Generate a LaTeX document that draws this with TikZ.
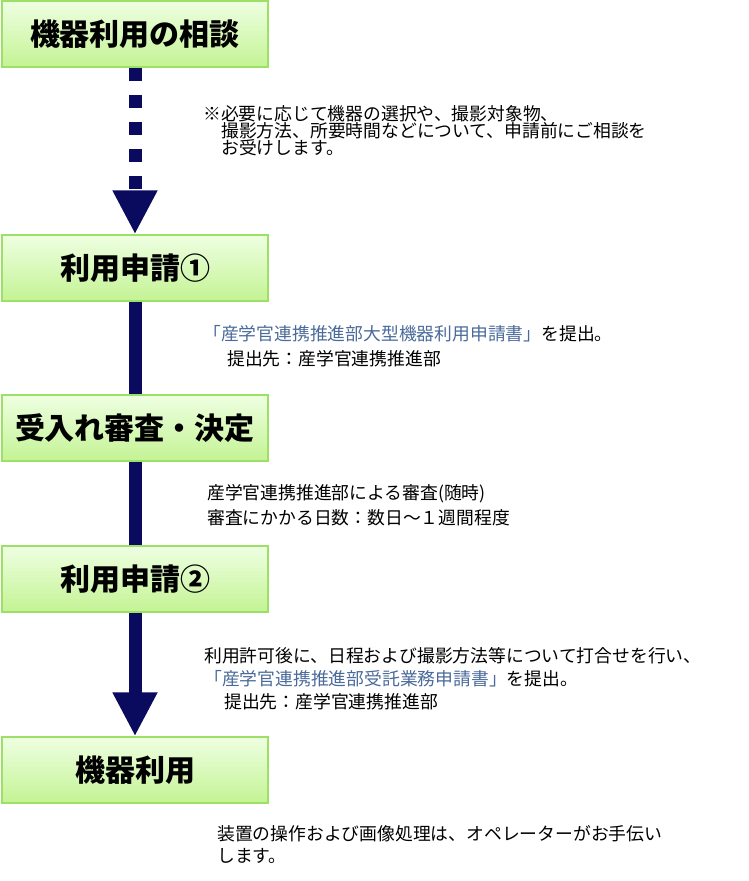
\documentclass[tikz,border=0pt]{standalone}
\usepackage{fontspec}
\setmainfont{Noto Sans CJK JP}
\usetikzlibrary{arrows.meta}
\definecolor{navy}{HTML}{0A0A5E}
\definecolor{boxtop}{HTML}{EEFFE2}
\definecolor{boxbot}{HTML}{C4F394}
\definecolor{boxline}{HTML}{9CE066}
\definecolor{formblue}{HTML}{4A6A9A}
\tikzset{
  stepbox/.style={draw=boxline,line width=1.5pt,top color=boxtop,bottom color=boxbot,
    minimum width=266pt,minimum height=66pt,inner sep=0pt,font=\bfseries\fontsize{30}{34}\selectfont},
  note/.style={anchor=north west,inner sep=0pt,align=left,font=\fontsize{17.8}{17}\selectfont},
  flow/.style={navy,line width=13pt},
  bighead/.style={-{Triangle[length=44pt,width=42pt]}}
}
\begin{document}
\begin{tikzpicture}[x=1pt,y=-1pt]
\useasboundingbox (0,0) rectangle (749,881);

% steps
\node[stepbox] (consult) at (135,34) {機器利用の相談};
\node[stepbox] (apply1) at (135,268) {利用申請①};
\node[stepbox] (review) at (135,428) {受入れ審査・決定};
\node[stepbox] (apply2) at (135,579) {利用申請②};
\node[stepbox] (use) at (135,770) {機器利用};

% connectors
\draw[flow,bighead,dash pattern=on 13pt off 14pt] (consult.south) -- (apply1.north);
\draw[flow] (apply1.south) -- (review.north);
\draw[flow] (review.south) -- (apply2.north);
\draw[flow,bighead] (apply2.south) -- (use.north);

% notes
\node[note] (n1) at (203,105) {※必要に応じて機器の選択や、撮影対象物、\\
\hspace{18pt}撮影方法、所要時間などについて、申請前にご相談を\\
\hspace{18pt}お受けします。};
\node[note,font=\fontsize{17.8}{25}\selectfont] (n2) at (203,325) {\textcolor{formblue}{「産学官連携推進部大型機器利用申請書」}を提出。\\
\hspace{24pt}提出先：産学官連携推進部};
\node[note,font=\fontsize{17.8}{25}\selectfont] (n3) at (207,484) {産学官連携推進部による審査(随時)\\
審査にかかる日数：数日～１週間程度};
\node[note,font=\fontsize{17.8}{23}\selectfont] (n4) at (204,647) {利用許可後に、日程および撮影方法等について打合せを行い、\\
\textcolor{formblue}{「産学官連携推進部受託業務申請書」}を提出。\\
\hspace{20pt}提出先：産学官連携推進部};
\node[note,font=\fontsize{17.8}{22}\selectfont] (n5) at (217,825) {装置の操作および画像処理は、オペレーターがお手伝い\\
します。};
\end{tikzpicture}
\end{document}
